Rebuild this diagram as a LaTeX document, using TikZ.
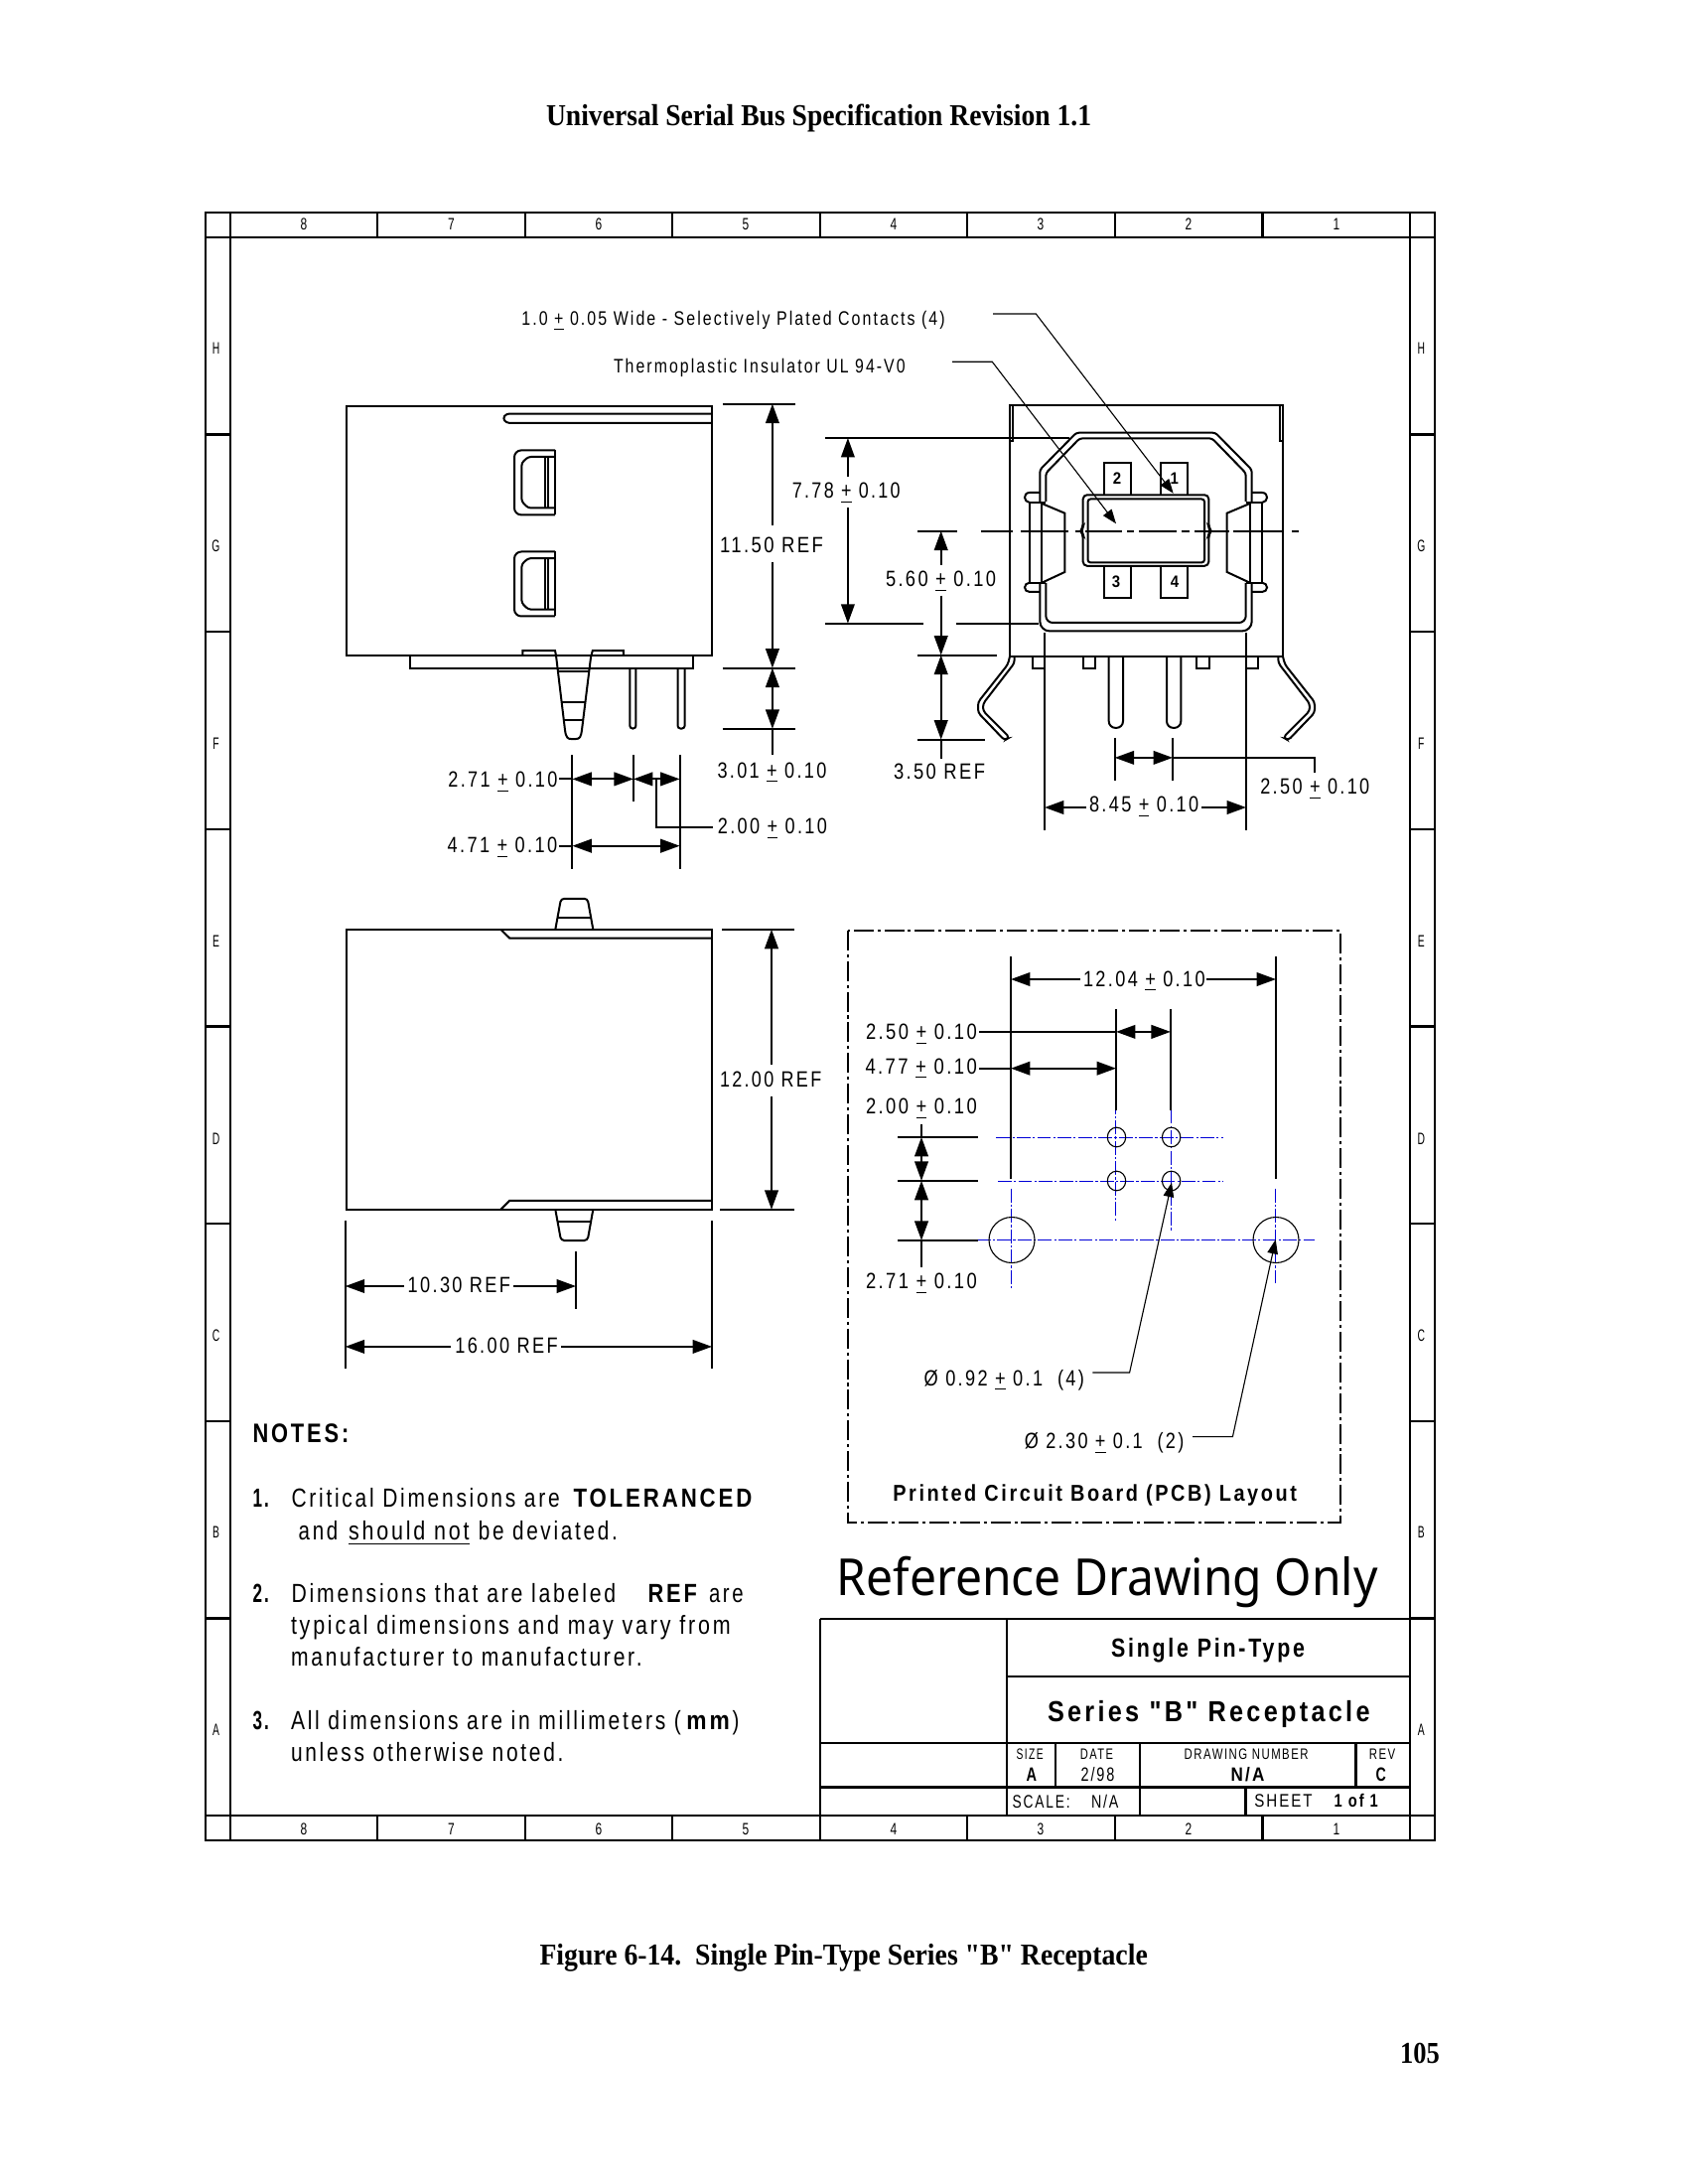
\documentclass[tikz,border=0pt]{standalone}
\usepackage{fontspec}
\usepackage{graphicx}
\usetikzlibrary{arrows.meta}
\newfontfamily\dwg{Liberation Sans}[LetterSpace=13]
\newfontfamily\serifb{Liberation Serif}
\newfontfamily\reffont{Noto Sans}
\newlength{\pxu}\setlength{\pxu}{0.36pt}
\newcounter{lbl}
\newcommand{\ulx}[1]{\underline{#1}}
\newcommand{\Tt}[5]{\stepcounter{lbl}\node[txt,anchor=base west] (lbl\arabic{lbl}) at (#1,#2) {\fontsize{#4}{#4}\selectfont\dwg\resizebox{\dimexpr #3\pxu\relax}{\height}{#5}};}
\newcommand{\Tc}[4]{\stepcounter{lbl}\node[txt,anchor=center] (lbl\arabic{lbl}) at (#1,#2) {\fontsize{6}{6}\selectfont\dwg\scalebox{#3}[1]{#4}};}
\tikzset{
 txt/.style={inner sep=0pt,outer sep=0pt,text=black},
 frameln/.style={line width=0.85pt},
 ol/.style={line width=0.72pt},
 thin1/.style={line width=0.4pt},
 ext/.style={line width=0.72pt},
 tipa/.tip={Triangle[length=7pt,width=4.9pt]},
 tipb/.tip={Triangle[length=5.2pt,width=3.8pt]},
 dimb/.style={ext,-{tipa}},
 dimab/.style={ext,{tipa}-{tipa}},
 leadr/.style={thin1,-{tipb}},
 blueln/.style={line width=0.33pt,color=bluec,dash pattern=on 5pt off 0.8pt on 0.8pt off 0.8pt},
 boxdash/.style={line width=0.72pt,dash pattern=on 7.2pt off 1.4pt on 1.1pt off 1.4pt},
}
\definecolor{bluec}{RGB}{0,0,215}
\begin{document}
\begin{tikzpicture}[x=0.36pt,y=-0.36pt]
\fill[white] (0,0) rectangle (1700,2199);
\useasboundingbox (0,0) rectangle (1700,2199);
% ---- page text
\Tt{550}{126.5}{549}{11}{\serifb\bfseries Universal Serial Bus Specification Revision 1.1}
\Tt{543.5}{1978}{612.3}{11}{\serifb\bfseries Figure 6-14.\ \ Single Pin-Type Series "B" Receptacle}
\Tt{1410}{2077}{39.8}{11}{\serifb\bfseries 105}
% ---- frame
\draw[frameln] (206.7,214) rectangle (1445,1853);
\draw[frameln] (206.7,239) -- (1445,239);
\draw[frameln] (206.7,1828) -- (1445,1828);
\draw[frameln] (232,214) -- (232,1853);
\draw[frameln] (1420,214) -- (1420,1853);
\foreach \xx in {380,529,677,825.7,974,1122.7,1271.5} {
 \draw[frameln] (\xx,214) -- (\xx,239);
 \draw[frameln] (\xx,1828) -- (\xx,1853);
}
\foreach \yy in {437.6,636.3,834.9,1033.5,1232.1,1430.8,1629.4} {
 \draw[frameln] (206.7,\yy) -- (232,\yy);
 \draw[frameln] (1420,\yy) -- (1445,\yy);
}
\foreach \xx/\nn in {306/8,454.5/7,603/6,751/5,900/4,1048/3,1197/2,1346/1} {
 \Tc{\xx}{225.7}{0.72}{\nn}
 \Tc{\xx}{1841.7}{0.72}{\nn}
}
\foreach \yy/\nn in {351/H,550/G,749/F,948/E,1147/D,1345/C,1543/B,1742/A} {
 \Tc{217.5}{\yy}{0.62}{\nn}
 \Tc{1431.3}{\yy}{0.62}{\nn}
}
% ---- side view (top left)
\draw[ol] (348.6,409) rectangle (717,660);
\draw[ol,rounded corners=1pt] (717,416.6) -- (510,416.6) -- (506.4,421.2) -- (510,425.8) -- (717,425.8);
\foreach \dy in {0,102.1} {
 \begin{scope}[shift={(0,\dy)}]
 \draw[ol,rounded corners=2.5pt] (559,453.4) -- (518,453.4) -- (518,518.4) -- (559,518.4);
 \draw[ol] (559,453.4) -- (559,518.4);
 \draw[ol,rounded corners=1pt] (559,460) -- (532,460) -- (525.4,466) -- (525.4,505) -- (532,511.5) -- (559,511.5);
 \draw[ol] (548.6,460) -- (548.6,511.5);
 \draw[ol] (552.4,460) -- (552.4,511.5);
 \end{scope}
}
\draw[ol] (412.9,660) -- (412.9,673) -- (697.9,673) -- (697.9,660);
\draw[ol] (526.4,660) -- (526.4,655) -- (559,655) -- (560,660) -- (569,735) .. controls (570,743) and (572,744) .. (575,744) -- (580,744) .. controls (584,744) and (585,742) .. (586,735) -- (595,662) -- (596.8,655) -- (627.9,655) -- (627.9,660);
\draw[ol] (562,676) -- (594,676);
\draw[ol] (566.4,706.7) -- (589.6,706.7);
\draw[ol] (568,725) -- (587,725);
\draw[ol,rounded corners=1pt] (634.3,673) -- (634.3,733.5) -- (640.4,733.5) -- (640.4,673);
\draw[ol,rounded corners=1pt] (682.5,673) -- (682.5,733.5) -- (689.6,733.5) -- (689.6,673);
% dims of side view
\draw[ext] (727.9,406.7) -- (800.7,406.7);
\draw[ext] (727.9,672.6) -- (800.7,672.6);
\draw[ext] (727.9,733.9) -- (800.7,733.9);
\draw[dimb] (777.9,528.8) -- (777.9,406.7);
\draw[dimb] (777.9,566) -- (777.9,672.6);
\draw[dimab] (777.9,672.6) -- (777.9,733.9);
\draw[ext] (777.9,733.9) -- (777.9,760.3);
\Tt{725}{556.3}{104}{8}{11.50 REF}
\Tt{722.5}{783}{110}{8}{3.01 \ulx{+} 0.10}
\draw[ext] (831.4,441) -- (1076.7,441);
\draw[ext] (831.4,627.7) -- (930,627.7);
\draw[ext] (962.7,627.7) -- (1045.7,627.7);
\draw[dimb] (853.9,479.8) -- (853.9,441);
\draw[dimb] (853.9,511.5) -- (853.9,627.7);
\Tt{797.9}{502}{108.8}{8}{7.78 \ulx{+} 0.10}
\draw[ext] (576.4,760.3) -- (576.4,875);
\draw[ext] (637.9,760.3) -- (637.9,807.4);
\draw[ext] (684.6,760.3) -- (684.6,875);
\draw[ext] (562.9,784.4) -- (576.4,784.4);
\draw[dimab] (576.4,784.4) -- (637.9,784.4);
\draw[dimab] (637.9,784.4) -- (684.6,784.4);
\draw[ext] (661,784.4) -- (661,833) -- (718,833);
\draw[ext] (562.9,851.7) -- (576.4,851.7);
\draw[dimab] (576.4,851.7) -- (684.6,851.7);
\Tt{451.4}{792.8}{110}{8}{2.71 \ulx{+} 0.10}
\Tt{722.9}{839.5}{110}{8}{2.00 \ulx{+} 0.10}
\Tt{450.7}{858.6}{110.5}{8}{4.71 \ulx{+} 0.10}
% leaders text
\Tt{525.4}{327.8}{426.3}{7.1}{1.0 \ulx{+} 0.05 Wide - Selectively Plated Contacts (4)}
\Tt{618}{375.7}{293.7}{7.1}{Thermoplastic Insulator UL 94-V0}
% ---- front view
\draw[ol] (1017,661) -- (1017,408) -- (1292.3,408) -- (1292.3,661) -- cycle;
\draw[ol] (1017,443.6) -- (1020,443.6) -- (1020,408);
\draw[ol] (1292.3,443.6) -- (1289,443.6) -- (1289,408);
\foreach \sx/\sc in {0/1,2308/-1} {
 \begin{scope}[shift={(\sx,0)},xscale=\sc]
 \draw[ol] (1036.7,506) -- (1036.7,586.7);
 \draw[ol] (1049.3,506) -- (1049.3,586.7);
 \draw[ol] (1036.7,506) -- (1053.3,506);
 \draw[ol] (1036.7,586.7) -- (1053.3,586.7);
 \draw[ol] (1049.3,507) -- (1072.3,516.7) -- (1072.3,576) -- (1049.3,586.7);
 \draw[ol] (1047.3,496) -- (1037,496) .. controls (1033,496) and (1032,499) .. (1032,501) .. controls (1032,503) and (1034,506) .. (1037,506);
 \draw[ol] (1037,586.7) .. controls (1034,586.7) and (1032,589) .. (1032,591.5) .. controls (1032,594) and (1034,596) .. (1037,596) -- (1047.3,596);
 \end{scope}
}
\draw[ol,rounded corners=1pt] (1047.3,505) -- (1047.3,473) -- (1084,435.7) -- (1224,435.7) -- (1260.7,473) -- (1260.7,505);
\draw[ol,rounded corners=1pt] (1053.3,505) -- (1053.3,476.4) -- (1087.3,441.4) -- (1220.7,441.4) -- (1254.7,476.4) -- (1254.7,505);
\draw[ol,rounded corners=3.5pt] (1047.3,587) -- (1047.3,635.4) -- (1260.7,635.4) -- (1260.7,587);
\draw[ol,rounded corners=2.5pt] (1053.3,587) -- (1053.3,627) -- (1254.7,627) -- (1254.7,587);
% insulator
\draw[ol,rounded corners=1.5pt] (1154,498.3) -- (1090.7,498.3) -- (1090.7,531) -- (1088.3,534.6) -- (1090.7,538) -- (1090.7,569.8) -- (1217.3,569.8) -- (1217.3,538) -- (1219.7,534.6) -- (1217.3,531) -- (1217.3,498.3) -- cycle;
\draw[ol,rounded corners=1pt] (1095.5,502.5) rectangle (1213,566.4);
% contacts
\draw[ol] (1111.7,498.3) -- (1111.7,466.4) -- (1139.3,466.4) -- (1139.3,498.3);
\draw[ol] (1168.7,498.3) -- (1168.7,466.4) -- (1196.3,466.4) -- (1196.3,498.3);
\draw[ol] (1111.7,569.8) -- (1111.7,602) -- (1139.3,602) -- (1139.3,569.8);
\draw[ol] (1168.7,569.8) -- (1168.7,602) -- (1196.3,602) -- (1196.3,569.8);
\Tc{1125}{481.8}{0.9}{\bfseries 2}
\Tc{1182.7}{481.8}{0.9}{\bfseries 1}
\Tc{1124}{586}{0.9}{\bfseries 3}
\Tc{1183}{586}{0.9}{\bfseries 4}
% centre line
\foreach \aa/\bb in {988/1020,1028/1076,1083/1088,1093/1130,1135/1142,1147/1185,1190/1198,1203/1238,1242/1291,1301/1308} {
 \draw[ext] (\aa,534.6) -- (\bb,534.6);
}
% leaders
\draw[leadr] (1000,316) -- (1043.3,316) -- (1181.7,496.8);
\draw[leadr] (959,364.3) -- (999.3,364.3) -- (1124,527.3);
% lower tabs, pins
\draw[ol] (1040.3,661) -- (1040.3,672.9) -- (1053.3,672.9);
\draw[ol] (1090.7,661) -- (1090.7,672.9) -- (1103.3,672.9) -- (1103.3,661);
\draw[ol] (1205,661) -- (1205,672.9) -- (1218.3,672.9) -- (1218.3,661);
\draw[ol] (1255,672.9) -- (1267.3,672.9) -- (1267.3,661);
\draw[ol,rounded corners=2.4pt] (1116.7,661) -- (1116.7,732.9) -- (1131,732.9) -- (1131,661);
\draw[ol,rounded corners=2.4pt] (1175,661) -- (1175,732.9) -- (1189.3,732.9) -- (1189.3,661);
\foreach \sx/\sc in {0/1,2309/-1} {
 \begin{scope}[shift={(\sx,0)},xscale=\sc]
 \draw[ol,rounded corners=1.2pt] (1017,661) -- (1015,669) -- (985,707) -- (985,717.5) -- (1011.7,745.4) -- (1016.7,742.5) -- (990,715.7) -- (990,708.6) -- (1021.7,667.5) -- (1021.7,661);
 \end{scope}
}
% front dims
\draw[ext] (924,534.6) -- (964,534.6);
\draw[ext] (924,659.6) -- (1004,659.6);
\draw[ext] (924,744.6) -- (991.7,744.6);
\draw[dimb] (947.7,568.6) -- (947.7,534.6);
\draw[dimb] (947.7,599.6) -- (947.7,659.6);
\draw[dimab] (947.7,659.6) -- (947.7,744.6);
\draw[ext] (947.7,744.6) -- (947.7,764);
\Tt{892}{590.7}{111}{8}{5.60 \ulx{+} 0.10}
\Tt{900}{784}{92}{8}{3.50 REF}
\draw[ext] (1122.7,742.9) -- (1122.7,786);
\draw[ext] (1181,742.9) -- (1181,786);
\draw[dimab] (1122.7,762.9) -- (1181,762.9);
\draw[ext] (1181,762.9) -- (1324.3,762.9) -- (1324.3,777.5);
\Tt{1269.3}{799.6}{110}{8}{2.50 \ulx{+} 0.10}
\draw[ext] (1052,637) -- (1052,836);
\draw[ext] (1255,637) -- (1255,836);
\draw[dimb] (1094,813) -- (1052,813);
\draw[dimb] (1210,813) -- (1255,813);
\Tt{1097}{817.5}{110.3}{8}{8.45 \ulx{+} 0.10}
% ---- lower side view
\draw[ol] (349,935.8) rectangle (717,1217.8);
\draw[ol] (504.3,935.8) -- (513.3,944.7) -- (717,944.7);
\draw[ol] (504.3,1217.8) -- (513.3,1208.8) -- (717,1208.8);
\draw[ol,rounded corners=1.2pt] (559.3,935.8) -- (565,904.8) -- (591.7,904.8) -- (597.3,935.8);
\draw[ol] (561.7,923.7) -- (595,923.7);
\draw[ol,rounded corners=1.2pt] (559.3,1217.8) -- (565,1249) -- (591.7,1249) -- (597.3,1217.8);
\draw[ol] (561.7,1229.8) -- (595,1229.8);
\draw[ext] (727.3,935.8) -- (800,935.8);
\draw[ext] (725,1217.8) -- (800,1217.8);
\draw[dimb] (777,1071.8) -- (777,935.8);
\draw[dimb] (777,1103.5) -- (777,1217.8);
\Tt{725}{1094}{102.3}{8}{12.00 REF}
\draw[ext] (347.7,1228.5) -- (347.7,1378);
\draw[ext] (717,1229) -- (717,1378);
\draw[ext] (580,1260) -- (580,1318);
\draw[dimb] (407,1295) -- (347.7,1295);
\draw[dimb] (517,1295) -- (580,1295);
\Tt{410.7}{1301.8}{103.3}{8}{10.30 REF}
\draw[dimb] (454,1355.9) -- (347.7,1355.9);
\draw[dimb] (565,1355.9) -- (717,1355.9);
\Tt{458.3}{1362}{103.4}{8}{16.00 REF}
% ---- PCB layout
\draw[boxdash] (854,936.9) rectangle (1349.6,1533.3);
\draw[blueln] (1003.4,1145.4) -- (1232.3,1145.4);
\draw[blueln] (1005,1189.4) -- (1232.3,1189.4);
\draw[blueln] (983.8,1248.9) -- (1324,1248.9);
\draw[blueln] (1123.8,1107.7) -- (1123.8,1229.5);
\draw[blueln] (1179.5,1117.6) -- (1179.5,1239.4);
\draw[blueln] (1018.3,1196.7) -- (1018.3,1297.5);
\draw[blueln] (1284.7,1196.7) -- (1284.7,1291.6);
\draw[thin1] (1124.5,1145) ellipse [x radius=9.2,y radius=9.8];
\draw[thin1] (1179.6,1145) ellipse [x radius=9.2,y radius=9.8];
\draw[thin1] (1124.5,1189) ellipse [x radius=9.2,y radius=9.8];
\draw[thin1] (1179.6,1189) ellipse [x radius=9.2,y radius=9.8];
\draw[thin1] (1019,1248.5) circle [radius=23];
\draw[thin1] (1285,1248.5) circle [radius=23];
\draw[ext] (1018,963.4) -- (1018,1186.8);
\draw[ext] (1285,963.4) -- (1285,1186.8);
\draw[ext] (1124,1016) -- (1124,1117.6);
\draw[ext] (1178.9,1016) -- (1178.9,1117.6);
\draw[dimb] (1088,986) -- (1018,986);
\draw[dimb] (1215,986) -- (1285,986);
\Tt{1091}{993}{122.7}{8}{12.04 \ulx{+} 0.10}
\draw[ext] (986,1038.9) -- (1124,1038.9);
\draw[dimab] (1124,1038.9) -- (1178.9,1038.9);
\draw[ext] (986,1075.7) -- (1018,1075.7);
\draw[dimab] (1018,1075.7) -- (1124,1075.7);
\Tt{872}{1046.4}{111.8}{8}{2.50 \ulx{+} 0.10}
\Tt{871.5}{1081}{112.3}{8}{4.77 \ulx{+} 0.10}
\Tt{872}{1121.5}{111.8}{8}{2.00 \ulx{+} 0.10}
\Tt{872}{1297.5}{111.8}{8}{2.71 \ulx{+} 0.10}
\draw[ext] (904.4,1144.9) -- (984.5,1144.9);
\draw[ext] (904.4,1188.8) -- (984.5,1188.8);
\draw[ext] (904.4,1248.9) -- (984.5,1248.9);
\draw[ext] (928,1132) -- (928,1144.9);
\draw[dimab] (928,1144.9) -- (928,1188.8);
\draw[dimab] (928,1188.8) -- (928,1248.9);
\draw[ext] (928,1248.9) -- (928,1275.8);
\draw[leadr] (1100.4,1382) -- (1137.6,1382) -- (1180,1190.7);
\draw[leadr] (1201,1446.6) -- (1241.4,1446.6) -- (1284.7,1248);
\Tt{930.7}{1395}{161.3}{8}{Ø 0.92 \ulx{+} 0.1\ \ (4)}
\Tt{1031.8}{1458.8}{160.6}{8}{Ø 2.30 \ulx{+} 0.1\ \ (2)}
\Tt{899.3}{1511}{406.7}{8.3}{\bfseries Printed Circuit Board (PCB) Layout}
% ---- title block
\Tt{842.9}{1606}{544.9}{18.5}{\reffont Reference Drawing Only}
\draw[frameln] (825.7,1629.7) -- (1420,1629.7);
\draw[frameln] (825.7,1629.7) -- (825.7,1828);
\draw[frameln] (1014.3,1629.7) -- (1014.3,1828);
\draw[frameln] (1014.3,1687.7) -- (1420,1687.7);
\draw[frameln] (825.7,1754.7) -- (1420,1754.7);
\draw[frameln] (825.7,1799.3) -- (1420,1799.3);
\draw[frameln] (1063.3,1754.7) -- (1063.3,1799.3);
\draw[frameln] (1148.2,1754.7) -- (1148.2,1828);
\draw[frameln] (1365.3,1754.7) -- (1365.3,1799.3);
\draw[frameln] (1254.3,1799.3) -- (1254.3,1828);
\Tt{1119}{1668.3}{195}{9.5}{\bfseries Single Pin-Type}
\Tt{1055}{1733.3}{324.6}{10.5}{\bfseries Series "B" Receptacle}
\Tt{1023.7}{1771}{26.9}{5.5}{SIZE}
\Tt{1087.8}{1771}{33.2}{5.5}{DATE}
\Tt{1192.7}{1771}{124.9}{5.5}{DRAWING NUMBER}
\Tt{1378.8}{1771}{26.5}{5.5}{REV}
\Tt{1033.5}{1793.3}{10.5}{7}{\bfseries A}
\Tt{1088.6}{1793.3}{33.8}{7}{2/98}
\Tt{1239.6}{1793.3}{33.9}{7}{\bfseries N/A}
\Tt{1385.7}{1793.3}{10.3}{7}{\bfseries C}
\Tt{1019.6}{1820}{58}{6.6}{SCALE:}
\Tt{1099}{1820.7}{27.5}{6.6}{N/A}
\Tt{1263.3}{1819}{58.3}{6.6}{SHEET}
\Tt{1343.7}{1819}{44.1}{6.6}{\bfseries 1 of 1}
% ---- notes
\Tt{254.5}{1452.7}{96.8}{9.7}{\bfseries NOTES:}
\Tt{254.5}{1517.3}{16.5}{9.5}{\bfseries 1.}
\Tt{293.6}{1517.3}{270.1}{9.5}{Critical Dimensions are}
\Tt{577.5}{1517.3}{179.9}{9.5}{\bfseries TOLERANCED}
\Tt{300.7}{1550}{39.6}{9.5}{and}
\Tt{351}{1550}{121.7}{9.5}{\ulx{should not}}
\Tt{481.8}{1550}{140}{9.5}{be deviated.}
\Tt{254.5}{1613.3}{16.5}{9.5}{\bfseries 2.}
\Tt{293.6}{1613.3}{326.6}{9.5}{Dimensions that are labeled}
\Tt{652.6}{1613.3}{49.4}{9.5}{\bfseries REF}
\Tt{714}{1613.3}{34.7}{9.5}{are}
\Tt{293}{1645}{442.7}{9.5}{typical dimensions and may vary from}
\Tt{293}{1677.3}{353.7}{9.5}{manufacturer to manufacturer.}
\Tt{254.5}{1741.7}{16.5}{9.5}{\bfseries 3.}
\Tt{293}{1741.7}{393}{9.5}{All dimensions are in millimeters (}
\Tt{691.4}{1741.7}{43.5}{9.5}{\bfseries mm}
\Tt{737.6}{1741.7}{6.8}{9.5}{)}
\Tt{293}{1773.3}{274.6}{9.5}{unless otherwise noted.}
\end{tikzpicture}
\end{document}
